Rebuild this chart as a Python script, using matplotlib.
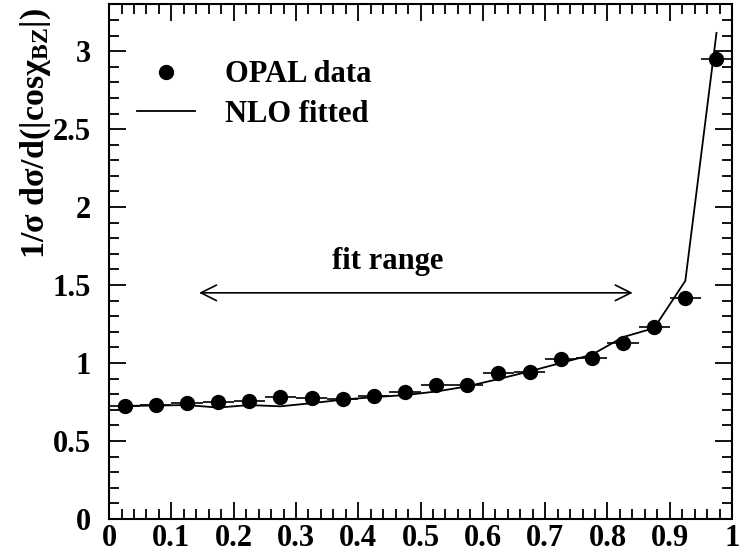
import numpy as np
import matplotlib.pyplot as plt
from matplotlib.ticker import MultipleLocator
from matplotlib.lines import Line2D

plt.rcParams['font.family'] = ['Liberation Serif', 'DejaVu Serif']
plt.rcParams['font.weight'] = 'bold'
plt.rcParams['mathtext.fontset'] = 'custom'
plt.rcParams['mathtext.rm'] = 'Liberation Serif:bold'
plt.rcParams['mathtext.bf'] = 'Liberation Serif:bold'
plt.rcParams['mathtext.it'] = 'Liberation Serif:bold:italic'

# bin centres of |cos chi_BZ|
x_bins = [0.025, 0.075, 0.125, 0.175, 0.225, 0.275, 0.325, 0.375, 0.425, 0.475,
          0.525, 0.575, 0.625, 0.675, 0.725, 0.775, 0.825, 0.875, 0.925, 0.975]
half_width = 0.025
opal_data = [0.727, 0.732, 0.745, 0.748, 0.756, 0.779, 0.775, 0.767, 0.790, 0.813,
             0.860, 0.856, 0.933, 0.939, 1.027, 1.035, 1.125, 1.228, 1.420, 2.950]
nlo_fit = [0.725, 0.727, 0.730, 0.714, 0.730, 0.722, 0.742, 0.765, 0.781, 0.794,
           0.817, 0.850, 0.897, 0.946, 1.000, 1.053, 1.166, 1.224, 1.527, 3.117]

fs = 22

fig = plt.figure(figsize=(7.47, 5.52), dpi=100)
ax = fig.add_axes([0.146, 0.060, 0.834, 0.932])

ax.plot(x_bins, nlo_fit, color='black', lw=1.3)
ax.errorbar(x_bins, opal_data, xerr=half_width, fmt='o', color='black',
            ms=10, elinewidth=1.2, capsize=0)

ax.annotate('', xy=(0.14, 1.45), xytext=(0.845, 1.45),
            arrowprops=dict(arrowstyle='<->', color='black', lw=1.2,
                            mutation_scale=28))
ax.text(0.447, 1.56, 'fit range', ha='center', va='bottom', fontsize=fs,
        fontweight='bold')

ax.set_xlim(0, 1)
ax.set_ylim(0, 3.3)
ax.xaxis.set_major_locator(MultipleLocator(0.1))
ax.xaxis.set_minor_locator(MultipleLocator(0.02))
ax.yaxis.set_major_locator(MultipleLocator(0.5))
ax.yaxis.set_minor_locator(MultipleLocator(0.1))
ax.xaxis.set_major_formatter(plt.FuncFormatter(lambda v, p: '%g' % round(v, 2)))
ax.yaxis.set_major_formatter(plt.FuncFormatter(lambda v, p: '%g' % round(v, 2)))
ax.tick_params(which='both', direction='in', top=True, right=True, width=1.3)
ax.tick_params(which='major', length=12, labelsize=fs)
ax.tick_params(which='minor', length=7)
ax.tick_params(axis='x', pad=4)
ax.tick_params(axis='y', pad=13)
for s in ax.spines.values():
    s.set_linewidth(1.5)

ax.set_ylabel('1/σ dσ/d(|cosχ$_{\\mathrm{BZ}}$|)', fontsize=24.5,
              fontweight='bold')
ax.yaxis.set_label_coords(-0.09, 0.75)

handles = [Line2D([], [], ls='none', marker='o', ms=10, color='black'),
           Line2D([], [], color='black', lw=1.3)]
labels = ['OPAL data', 'NLO fitted']
ax.legend(handles, labels, loc='upper left', bbox_to_anchor=(0.0, 0.945),
          frameon=False, handlelength=1.9, handletextpad=1.0,
          labelspacing=0.35, prop={'weight': 'bold', 'size': fs})

fig.savefig('out.png', dpi=100)
